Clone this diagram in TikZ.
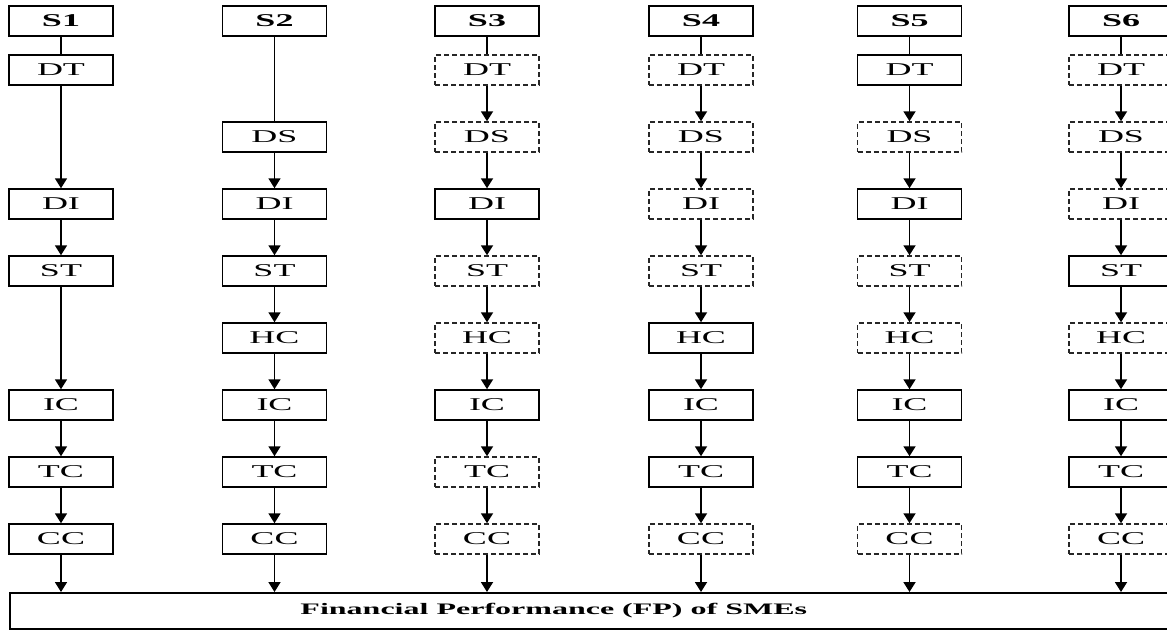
\documentclass[tikz,border=0pt]{standalone}
\usepackage{fontspec}
\setmainfont[FakeStretch=2]{Liberation Serif}
\usetikzlibrary{arrows.meta}

\tikzset{
  box/.style={draw, line width=1.5pt, minimum width=104pt, minimum height=30pt,
    inner sep=0pt, font=\fontsize{18}{18}\selectfont},
  dbox/.style={box, dash pattern=on 5pt off 3pt, draw=black!85},
  head/.style={box, font=\fontsize{18}{18}\selectfont\bfseries},
  fpbox/.style={draw, line width=1.5pt, minimum width=1200pt, minimum height=36pt, inner sep=0pt},
  fptext/.style={font=\fontsize{16}{16}\selectfont\bfseries},
  link/.style={line width=1.8pt},
  arr/.style={link, -{Triangle[width=12pt,length=10pt]}},
}

\begin{document}
\begin{tikzpicture}[x=1pt,y=-1pt]
\useasboundingbox (0,0) rectangle (1167,630);
\clip (0,0) rectangle (1167,630);
%% heads
\foreach \c/\x in {1/61,2/274.5,3/487,4/701,5/909.5,6/1121}
  \node[head] (s\c) at (\x,21) {S\c};
%% factors
\foreach \c/\x/\s in {1/61/box,3/487/dbox,4/701/dbox,5/909.5/box,6/1121/dbox}
  \node[\s] (dt\c) at (\x,70) {DT};
\foreach \c/\x/\s in {2/274.5/box,3/487/dbox,4/701/dbox,5/909.5/dbox,6/1121/dbox}
  \node[\s] (ds\c) at (\x,137) {DS};
\foreach \c/\x/\s in {1/61/box,2/274.5/box,3/487/box,4/701/dbox,5/909.5/box,6/1121/dbox}
  \node[\s] (di\c) at (\x,204) {DI};
\foreach \c/\x/\s in {1/61/box,2/274.5/box,3/487/dbox,4/701/dbox,5/909.5/dbox,6/1121/box}
  \node[\s] (st\c) at (\x,271) {ST};
\foreach \c/\x/\s in {2/274.5/box,3/487/dbox,4/701/box,5/909.5/dbox,6/1121/dbox}
  \node[\s] (hc\c) at (\x,338) {HC};
\foreach \c/\x/\s in {1/61/box,2/274.5/box,3/487/box,4/701/box,5/909.5/box,6/1121/box}
  \node[\s] (ic\c) at (\x,405) {IC};
\foreach \c/\x/\s in {1/61/box,2/274.5/box,3/487/dbox,4/701/box,5/909.5/box,6/1121/box}
  \node[\s] (tc\c) at (\x,472) {TC};
\foreach \c/\x/\s in {1/61/box,2/274.5/box,3/487/dbox,4/701/dbox,5/909.5/dbox,6/1121/dbox}
  \node[\s] (cc\c) at (\x,539) {CC};
%% outcome
\node[fpbox, anchor=north west,
  label={[fptext, xshift=-56pt]center:Financial Performance (FP) of SMEs}] (fp) at (9,592) {};
%% links S1
\draw[link] (s1) -- (dt1);
\foreach \a/\b in {dt1/di1,di1/st1,st1/ic1,ic1/tc1,tc1/cc1}
  \draw[arr] (\a) -- (\b);
%% links S2
\draw[link] (s2) -- (ds2);
\foreach \a/\b in {ds2/di2,di2/st2,st2/hc2,hc2/ic2,ic2/tc2,tc2/cc2}
  \draw[arr] (\a) -- (\b);
%% links S3-S6
\foreach \c in {3,...,6}{
  \draw[link] (s\c) -- (dt\c);
  \foreach \a/\b in {dt/ds,ds/di,di/st,st/hc,hc/ic,ic/tc,tc/cc}
    \draw[arr] (\a\c) -- (\b\c);
}
\foreach \c in {1,...,6}
  \draw[arr] (cc\c) -- (cc\c |- fp.north);
\end{tikzpicture}
\end{document}
